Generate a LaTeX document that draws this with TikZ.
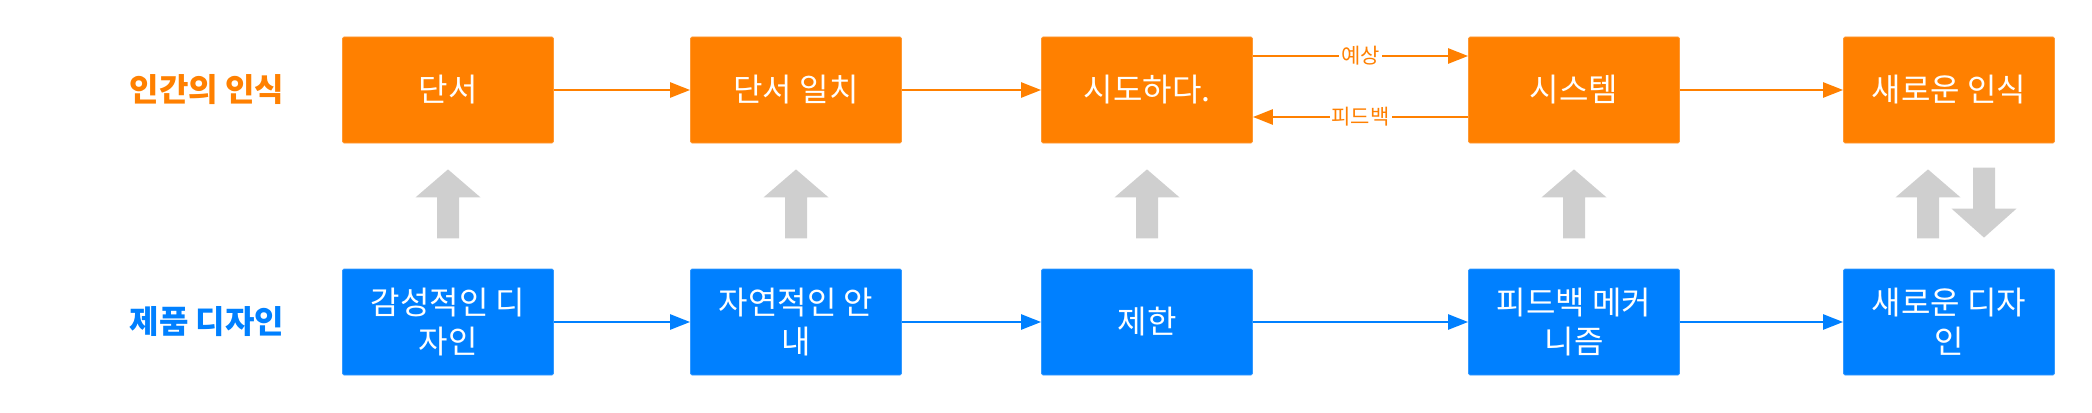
\documentclass[tikz,border=0pt]{standalone}
\usepackage{fontspec}
\setmainfont{Noto Sans CJK KR}
\usetikzlibrary{arrows.meta}
\definecolor{ora}{RGB}{255,128,0}
\definecolor{blu}{RGB}{0,128,255}
\definecolor{gry}{RGB}{207,207,207}
\newcommand\myboxfont{\fontsize{32}{39}\selectfont\lineskiplimit=-60pt\relax}
\tikzset{
  obox/.style={rectangle, rounded corners=1.5pt, fill=ora, draw=ora!80!white, line width=0.8pt, text=white,
    minimum width=211pt, minimum height=106pt, inner sep=0pt, align=center,
    font=\myboxfont},
  bbox/.style={obox, fill=blu, draw=blu!80!white},
  rowlab/.style={font=\fontsize{32}{38}\selectfont\bfseries, inner sep=0pt},
  oarr/.style={draw=ora, line width=2.6pt, -{Triangle[length=20pt,width=15pt]}},
  barr/.style={draw=blu, line width=2.6pt, -{Triangle[length=20pt,width=15pt]}},
  elab/.style={fill=white, text=ora, inner sep=2pt, font=\fontsize{21}{24}\selectfont},
  uparr/.pic={\fill[gry] (0,0) -- (32.5,28) -- (11,28) -- (11,69) -- (-11,69) -- (-11,28) -- (-32.5,28) -- cycle;},
  dnarr/.pic={\fill[gry] (0,0) -- (32.5,-29) -- (11,-29) -- (11,-70) -- (-11,-70) -- (-11,-29) -- (-32.5,-29) -- cycle;}
}
\begin{document}
\begin{tikzpicture}[x=1pt,y=-1pt]
\useasboundingbox (0,0) rectangle (2092,412);
\node[rowlab, text=ora] (l1) at (207,90) {인간의 인식};
\node[rowlab, text=blu] (l2) at (207,322) {제품 디자인};
\node[obox] (a1) at (448,90) {단서};
\node[obox] (a2) at (796,90) {단서 일치};
\node[obox] (a3) at (1147,90) {시도하다.};
\node[obox] (a4) at (1574,90) {시스템};
\node[obox] (a5) at (1949,90) {새로운 인식};
\node[bbox] (b1) at (448,322) {감성적인 디\\자인};
\node[bbox] (b2) at (796,322) {자연적인 안\\내};
\node[bbox] (b3) at (1147,322) {제한};
\node[bbox] (b4) at (1574,322) {피드백 메커\\니즘};
\node[bbox] (b5) at (1949,322) {새로운 디자\\인};
\draw[oarr] (a1) -- (a2);
\draw[oarr] (a2) -- (a3);
\draw[oarr] ([yshift=34pt]a3.east) -- node[elab]{예상} ([yshift=34pt]a4.west);
\draw[oarr] ([yshift=-27pt]a4.west) -- node[elab]{피드백} ([yshift=-27pt]a3.east);
\draw[oarr] (a4) -- (a5);
\draw[barr] (b1) -- (b2);
\draw[barr] (b2) -- (b3);
\draw[barr] (b3) -- (b4);
\draw[barr] (b4) -- (b5);
\pic at ([yshift=-26pt]a1.south) {uparr};
\pic at ([yshift=-26pt]a2.south) {uparr};
\pic at ([yshift=-26pt]a3.south) {uparr};
\pic at ([yshift=-26pt]a4.south) {uparr};
\pic at ([xshift=-21pt,yshift=-26pt]a5.south) {uparr};
\pic at ([xshift=35pt,yshift=31pt]b5.north) {dnarr};
\end{tikzpicture}
\end{document}
